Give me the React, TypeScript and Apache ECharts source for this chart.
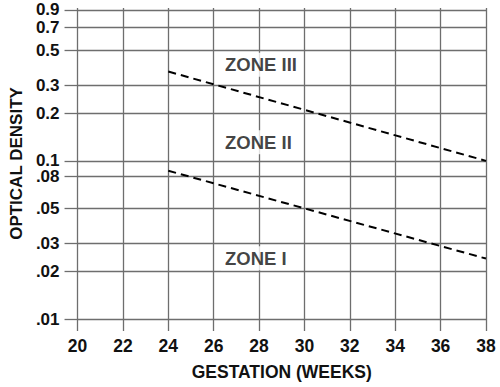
import React, { useEffect, useRef } from "react";
import * as echarts from "echarts";

const xMin = 20;
const xMax = 38;
const xStep = 2;
const yTickValues = [0.01, 0.02, 0.03, 0.05, 0.08, 0.1, 0.2, 0.3, 0.5, 0.7, 0.9];
const yTickLabels = [".01", ".02", ".03", ".05", ".08", "0.1", "0.2", "0.3", "0.5", "0.7", "0.9"];
const boundaryWeeks = [24, 38];
const upperBoundary = [0.367, 0.1];
const lowerBoundary = [0.0866, 0.0241];
const zoneNames = ["ZONE III", "ZONE II", "ZONE I"];
const zoneWeeks = [26.3, 26.3, 26.3];
const zoneOD = [0.405, 0.131, 0.0242];

const FONT = "'Liberation Sans', Arial, Helvetica, sans-serif";
const GRID = "#6e6e6e";

export default function App() {
  const ref = useRef<HTMLDivElement>(null);
  useEffect(() => {
    if (!ref.current) return;
    const chart = echarts.init(ref.current, null, { renderer: "svg" });
    const labelFor = (v: number) => {
      const i = yTickValues.findIndex((t) => Math.abs(v - t) / t < 1e-4);
      return i >= 0 ? yTickLabels[i] : "";
    };
    chart.setOption({
      animation: false,
      backgroundColor: "#fff",
      textStyle: { fontFamily: FONT },
      grid: { left: 75, right: 14, top: 8, bottom: 68, containLabel: false },
      xAxis: {
        type: "value",
        min: xMin,
        max: xMax,
        interval: xStep,
        name: "GESTATION (WEEKS)",
        nameLocation: "middle",
        nameGap: 44,
        nameTextStyle: { fontFamily: FONT, fontWeight: "bold", fontSize: 17.5, color: "#111" },
        axisLine: { show: false },
        axisTick: { show: true, inside: false, length: 12, lineStyle: { color: GRID, width: 1.3 } },
        axisLabel: {
          fontFamily: FONT,
          fontWeight: "bold",
          fontSize: 17.5,
          color: "#111",
          margin: 18,
        },
        splitLine: { show: true, lineStyle: { color: GRID, width: 1.3 } },
      },
      yAxis: {
        type: "log",
        logBase: 10,
        min: 0.01,
        max: 0.926,
        name: "OPTICAL DENSITY",
        nameLocation: "middle",
        nameRotate: 90,
        nameGap: 52,
        nameTextStyle: { fontFamily: FONT, fontWeight: "bold", fontSize: 17, color: "#111" },
        axisLine: { show: false },
        axisTick: {
          show: true,
          inside: false,
          length: 13,
          customValues: yTickValues,
          lineStyle: { color: GRID, width: 1.3 },
        },
        axisLabel: {
          customValues: yTickValues,
          formatter: (v: number) => labelFor(v),
          fontFamily: FONT,
          fontWeight: "bold",
          fontSize: 17,
          lineHeight: 13,
          color: "#111",
          margin: 18,
        },
        splitLine: { show: true, lineStyle: { color: GRID, width: 1.3 } },
        minorSplitLine: { show: false },
      },
      series: [
        {
          type: "line",
          data: boundaryWeeks.map((w, i) => [w, upperBoundary[i]]),
          symbol: "none",
          lineStyle: { color: "#000", width: 2, type: [8, 5] },
          z: 3,
        },
        {
          type: "line",
          data: boundaryWeeks.map((w, i) => [w, lowerBoundary[i]]),
          symbol: "none",
          lineStyle: { color: "#000", width: 2, type: [8, 5] },
          z: 3,
        },
        {
          type: "scatter",
          symbolSize: 1,
          itemStyle: { color: "transparent" },
          data: zoneNames.map((n, i) => ({ name: n, value: [zoneWeeks[i], zoneOD[i]] })),
          label: {
            show: true,
            position: "right",
            distance: 0,
            formatter: "{b}",
            fontFamily: FONT,
            fontWeight: "bold",
            fontSize: 18.5,
            color: "#111",
            backgroundColor: "#fff",
            padding: [5, 4, 0, 4],
          },
          z: 4,
        },
      ],
    });
    return () => chart.dispose();
  }, []);
  return (
    <div
      ref={ref}
      style={{ position: "fixed", left: 0, top: 0, width: 500, height: 387 }}
    />
  );
}
